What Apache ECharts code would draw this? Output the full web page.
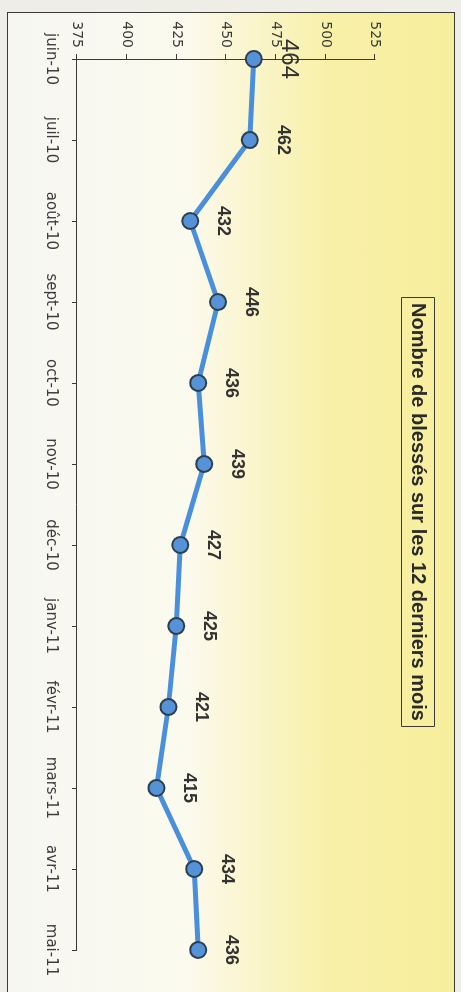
<!DOCTYPE html>
<html>
<head>
<meta charset="utf-8">
<script src="https://cdn.jsdelivr.net/npm/echarts@6/dist/echarts.min.js"></script>
<style>
  html, body { margin: 0; padding: 0; width: 461px; height: 992px; overflow: hidden; background: #eeede6; }
  #wrap {
    position: absolute; left: 0; top: 0; width: 992px; height: 461px;
    transform-origin: 0 0; transform: translate(461px, 0) rotate(90deg);
  }
  #frame {
    position: absolute; left: 12px; top: 6px; width: 1000px; height: 448px;
    border: 1.5px solid #3a3a36; box-sizing: border-box;
    background: linear-gradient(to bottom, #f7ee9c 0%, #f8f0a8 28%, #faf5cc 45%, #fbfaee 60%, #f7f7f2 100%);
  }
  #chart { position: absolute; left: 0; top: 0; width: 992px; height: 461px; }
</style>
</head>
<body>
<div id="wrap">
  <div id="frame"></div>
  <div id="chart"></div>
</div>
<script>
const categories = ['juin-10', 'juil-10', 'août-10', 'sept-10', 'oct-10', 'nov-10', 'déc-10', 'janv-11', 'févr-11', 'mars-11', 'avr-11', 'mai-11'];
const blesses = [464, 462, 432, 446, 436, 439, 427, 425, 421, 415, 434, 436];
const valueMin = 375;
const valueMax = 525;
const valueStep = 25;
const titleText = 'Nombre de blessés sur les 12 derniers mois';

const chart = echarts.init(document.getElementById('chart'), null, { renderer: 'canvas' });

const seriesData = blesses.map((v, i) => i === 0
  ? { value: v, label: { fontSize: 24, fontWeight: 'normal', distance: 14 } }
  : v);

chart.setOption({
  backgroundColor: 'transparent',
  animation: false,
  title: {
    text: titleText,
    left: 297,
    top: 26,
    padding: [7, 6],
    borderWidth: 1,
    borderColor: '#3a3a36',
    textStyle: { fontFamily: 'Liberation Sans', fontSize: 20, fontWeight: 'bold', color: '#2a2a28' }
  },
  grid: { left: 59, right: 42, top: 86, bottom: 77 },
  xAxis: {
    type: 'category',
    data: categories,
    boundaryGap: false,
    axisLine: { lineStyle: { color: '#3a3a36', width: 1 } },
    axisTick: { length: 5, lineStyle: { color: '#3a3a36' } },
    axisLabel: { margin: 19, fontFamily: 'DejaVu Sans', fontSize: 15, color: '#3c3c3a' },
    splitLine: { show: false }
  },
  yAxis: {
    type: 'value',
    min: valueMin,
    max: valueMax,
    interval: valueStep,
    axisLine: { show: true, lineStyle: { color: '#3a3a36', width: 1 } },
    axisTick: { show: true, length: 5, lineStyle: { color: '#3a3a36' } },
    axisLabel: { margin: 11, fontFamily: 'DejaVu Sans', fontSize: 14, color: '#3c3c3a' },
    splitLine: { show: false }
  },
  series: [{
    type: 'line',
    data: seriesData,
    symbol: 'circle',
    symbolSize: 16,
    lineStyle: { color: '#4a8fdc', width: 5 },
    itemStyle: { color: '#5692d8', borderColor: '#2c3f4e', borderWidth: 2 },
    label: {
      show: true,
      position: 'top',
      distance: 15,
      fontFamily: 'Liberation Sans',
      fontSize: 18,
      fontWeight: 'bold',
      color: '#333331'
    },
    z: 3
  }]
});
</script>
</body>
</html>
